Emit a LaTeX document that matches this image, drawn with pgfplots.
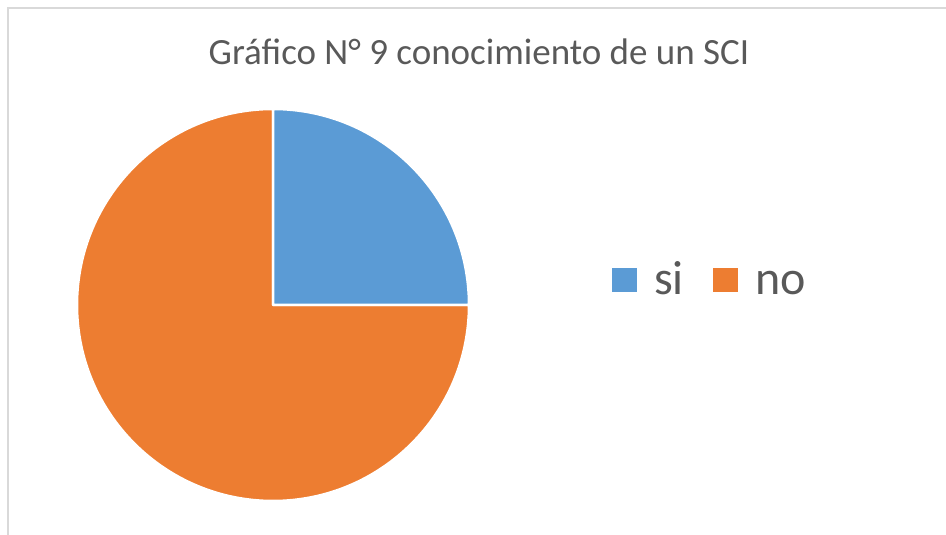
\documentclass[border=0pt]{standalone}
\usepackage{pgfplots}
\pgfplotsset{compat=1.18}
\usepackage{pgfplotstable}
\usepackage{fontspec}
\setmainfont{Carlito}
\definecolor{siblue}{HTML}{5B9BD5}
\definecolor{noorange}{HTML}{ED7D31}
\definecolor{txtgray}{HTML}{595959}
\definecolor{framegray}{HTML}{D9D9D9}
\pgfplotstableread{
label value
si 25
no 75
}\piedata
\begin{document}
\begin{tikzpicture}
\pgfplotstablegetelem{0}{value}\of\piedata
\pgfmathsetmacro\vsi{\pgfplotsretval}
\pgfplotstablegetelem{1}{value}\of\piedata
\pgfmathsetmacro\vno{\pgfplotsretval}
\pgfmathsetmacro\asi{360*\vsi/(\vsi+\vno)}
\pgfmathsetmacro\endsi{90-\asi}
\pgfmathsetmacro\endno{90-360}
\begin{axis}[name=ax,width=946pt,height=535pt,scale only axis,
  xmin=0,xmax=946,ymin=0,ymax=535,hide axis,clip=false]
% frame
\draw[framegray,line width=1.2pt] (axis cs:8,0) -- (axis cs:8,527) -- (axis cs:946,527);
% pie slices
\fill[noorange,draw=white,line width=2.5pt,line join=round] (axis cs:273,230) -- ++(\endsi:196pt)
  arc[start angle=\endsi,end angle=\endno,radius=196pt] -- cycle;
\fill[siblue,draw=white,line width=2.5pt,line join=round] (axis cs:273,230) -- ++(90:196pt)
  arc[start angle=90,end angle=\endsi,radius=196pt] -- cycle;
% title
\node[txtgray,anchor=base] at (axis cs:479,470) {\fontsize{37}{44}\selectfont Gráfico N° 9 conocimiento de un SCI};
% legend
\fill[siblue] (axis cs:612,243) rectangle (axis cs:637,267);
\node[txtgray,anchor=base west,inner sep=0pt] at (axis cs:654,240) {\fontsize{48}{54}\selectfont si};
\fill[noorange] (axis cs:713,243) rectangle (axis cs:738,267);
\node[txtgray,anchor=base west,inner sep=0pt] at (axis cs:755,240) {\fontsize{48}{54}\selectfont no};
\end{axis}
\pgfresetboundingbox
\path[use as bounding box] (ax.south west) rectangle (ax.north east);
\end{tikzpicture}
\end{document}
